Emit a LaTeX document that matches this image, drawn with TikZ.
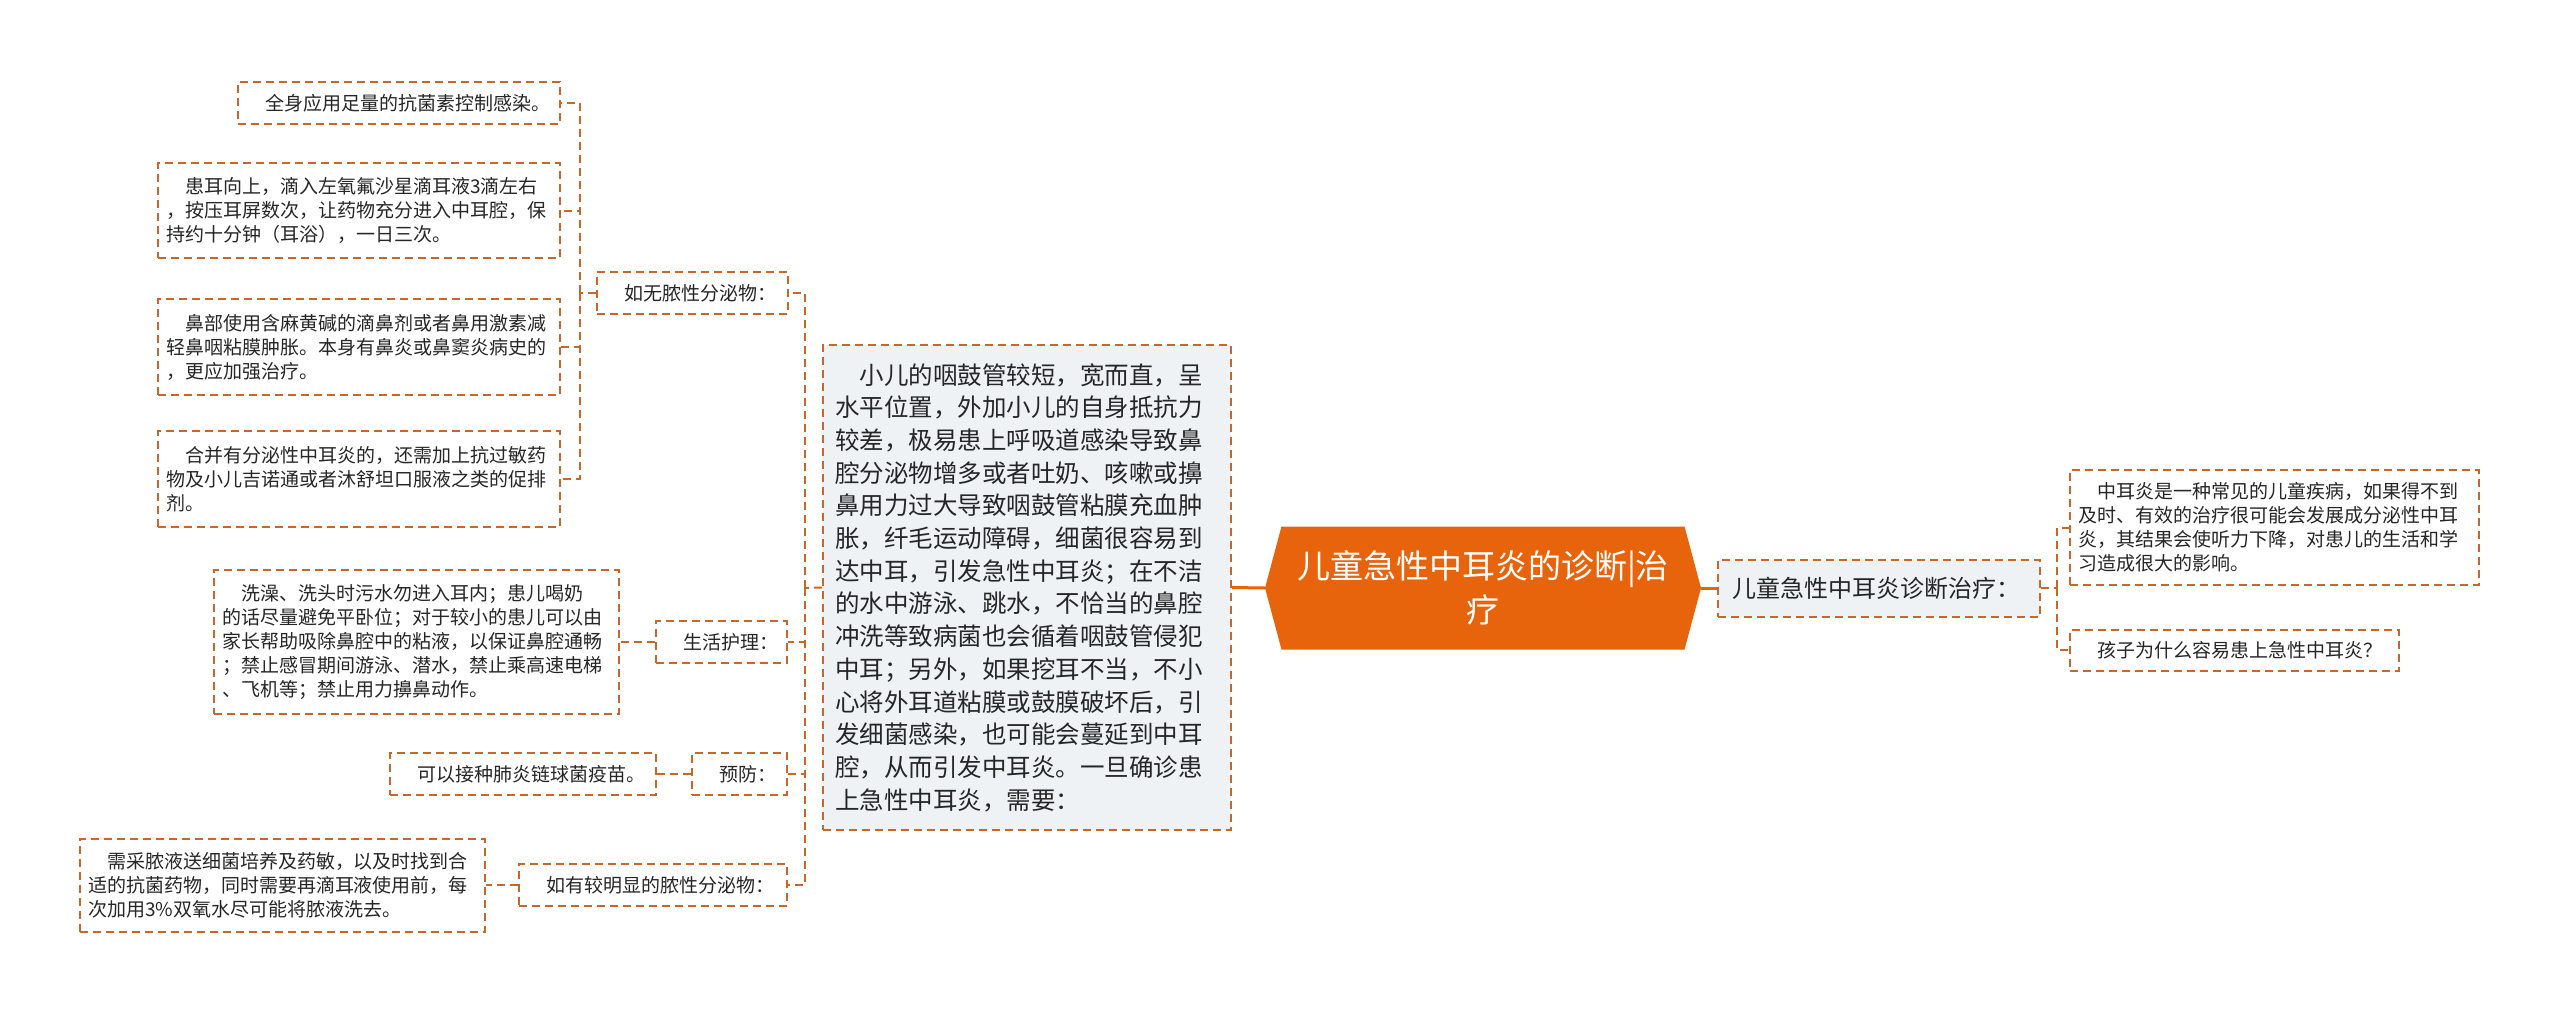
\documentclass[tikz,border=0pt]{standalone}
\usepackage{fontspec}
\setmainfont{Noto Sans CJK SC}
\usepackage{tikz}
\usetikzlibrary{shapes.symbols}
\definecolor{BranchOrange}{HTML}{E8640C}
\definecolor{DashBrown}{HTML}{C8672A}
\definecolor{PaleSlate}{HTML}{EEF2F5}
\definecolor{InkGray}{HTML}{262626}
\newcommand{\firstgap}{\hspace*{1em}}
\tikzset{
  leafbox/.style={draw=DashBrown, line width=2pt, dash pattern=on 8pt off 5pt,
                  fill=white, text=InkGray, align=left, inner xsep=8pt, inner ysep=0pt,
                  font=\fontsize{19pt}{24pt}\selectfont},
  midbox/.style={leafbox, minimum height=42pt},
  bigbox/.style={leafbox, fill=PaleSlate, inner xsep=12pt,
                 font=\fontsize{24.5pt}{32.7pt}\selectfont},
  link/.style={draw=DashBrown, line width=2pt, dash pattern=on 8pt off 5pt},
  mainlink/.style={draw=BranchOrange, line width=3pt},
  rootnode/.style={shape=signal, signal to=west and east, signal pointer angle=150,
                   fill=BranchOrange, text=white, align=center, inner sep=0pt,
                   minimum width=436pt, minimum height=123pt,
                   font=\fontsize{33pt}{44pt}\selectfont}
}
\begin{document}
\begin{tikzpicture}[x=1pt,y=-1pt]
\useasboundingbox[fill=white] (0,0) rectangle (2560,1014);

\node[rootnode] (root) at (1483,588) {儿童急性中耳炎的诊断|治\\疗};

% right side
\node[leafbox, fill=PaleSlate, text width=294pt, minimum height=57pt, inner xsep=14pt,
      font=\fontsize{24pt}{30pt}\selectfont] (diag) at (1879,588) {儿童急性中耳炎诊断治疗：};
\node[leafbox, text width=393pt, minimum height=115pt] (rl1) at (2274.5,527.5)
  {\firstgap 中耳炎是一种常见的儿童疾病，如果得不到\\
   及时、有效的治疗很可能会发展成分泌性中耳\\
   炎，其结果会使听力下降，对患儿的生活和学\\
   习造成很大的影响。};
\node[leafbox, text width=313pt, minimum height=41pt] (rl2) at (2234.5,650)
  {\firstgap 孩子为什么容易患上急性中耳炎？};

% left side
\node[bigbox, text width=384pt, minimum height=485pt] (big) at (1027,587.5)
  {\firstgap 小儿的咽鼓管较短，宽而直，呈\\
   水平位置，外加小儿的自身抵抗力\\
   较差，极易患上呼吸道感染导致鼻\\
   腔分泌物增多或者吐奶、咳嗽或擤\\
   鼻用力过大导致咽鼓管粘膜充血肿\\
   胀，纤毛运动障碍，细菌很容易到\\
   达中耳，引发急性中耳炎；在不洁\\
   的水中游泳、跳水，不恰当的鼻腔\\
   冲洗等致病菌也会循着咽鼓管侵犯\\
   中耳；另外，如果挖耳不当，不小\\
   心将外耳道粘膜或鼓膜破坏后，引\\
   发细菌感染，也可能会蔓延到中耳\\
   腔，从而引发中耳炎。一旦确诊患\\
   上急性中耳炎，需要：};

\node[midbox, text width=175pt] (mid1) at (692.5,293) {\firstgap 如无脓性分泌物：};
\node[midbox, text width=115pt] (mid2) at (721.5,642) {\firstgap 生活护理：};
\node[midbox, text width=79pt]  (mid3) at (739.5,774) {\firstgap 预防：};
\node[midbox, text width=252pt] (mid4) at (653,885) {\firstgap 如有较明显的脓性分泌物：};

\node[leafbox, text width=306pt, minimum height=42pt] (l1) at (399,103)
  {\firstgap 全身应用足量的抗菌素控制感染。};
\node[leafbox, text width=386pt, minimum height=95pt] (l2) at (359,210.5)
  {\firstgap 患耳向上，滴入左氧氟沙星滴耳液3滴左右\\
   ，按压耳屏数次，让药物充分进入中耳腔，保\\
   持约十分钟（耳浴），一日三次。};
\node[leafbox, text width=386pt, minimum height=96pt] (l3) at (359,347)
  {\firstgap 鼻部使用含麻黄碱的滴鼻剂或者鼻用激素减\\
   轻鼻咽粘膜肿胀。本身有鼻炎或鼻窦炎病史的\\
   ，更应加强治疗。};
\node[leafbox, text width=386pt, minimum height=96pt] (l4) at (359,479)
  {\firstgap 合并有分泌性中耳炎的，还需加上抗过敏药\\
   物及小儿吉诺通或者沐舒坦口服液之类的促排\\
   剂。};
\node[leafbox, text width=389pt, minimum height=144pt] (l5) at (416.5,642)
  {\firstgap 洗澡、洗头时污水勿进入耳内；患儿喝奶\\
   的话尽量避免平卧位；对于较小的患儿可以由\\
   家长帮助吸除鼻腔中的粘液，以保证鼻腔通畅\\
   ；禁止感冒期间游泳、潜水，禁止乘高速电梯\\
   、飞机等；禁止用力擤鼻动作。};
\node[leafbox, text width=250pt, minimum height=42pt] (l6) at (523,774)
  {\firstgap 可以接种肺炎链球菌疫苗。};
\node[leafbox, text width=389pt, minimum height=93pt] (l7) at (282.5,885)
  {\firstgap 需采脓液送细菌培养及药敏，以及时找到合\\
   适的抗菌药物，同时需要再滴耳液使用前，每\\
   次加用3\%双氧水尽可能将脓液洗去。};

\coordinate (rj) at (2057,588);
\coordinate (lj) at (805,588);
\coordinate (mj) at (580,293);

\draw[mainlink] (root.east) -- (diag.west);
\draw[mainlink] (root.west) -- (big.east);
\draw[link] (diag.east) -- (rj);
\draw[link] (rj) |- (rl1.west);
\draw[link] (rj) |- (rl2.west);
\draw[link] (big.west) -- (lj);
\draw[link] (lj) |- (mid1.east);
\draw[link] (lj) |- (mid2.east);
\draw[link] (lj) |- (mid3.east);
\draw[link] (lj) |- (mid4.east);
\draw[link] (mid1.west) -- (mj);
\draw[link] (mj) |- (l1.east);
\draw[link] (mj) |- (l2.east);
\draw[link] (mj) |- (l3.east);
\draw[link] (mj) |- (l4.east);
\draw[link] (mid2.west) -- (l5.east);
\draw[link] (mid3.west) -- (l6.east);
\draw[link] (mid4.west) -- (l7.east);
\end{tikzpicture}
\end{document}
